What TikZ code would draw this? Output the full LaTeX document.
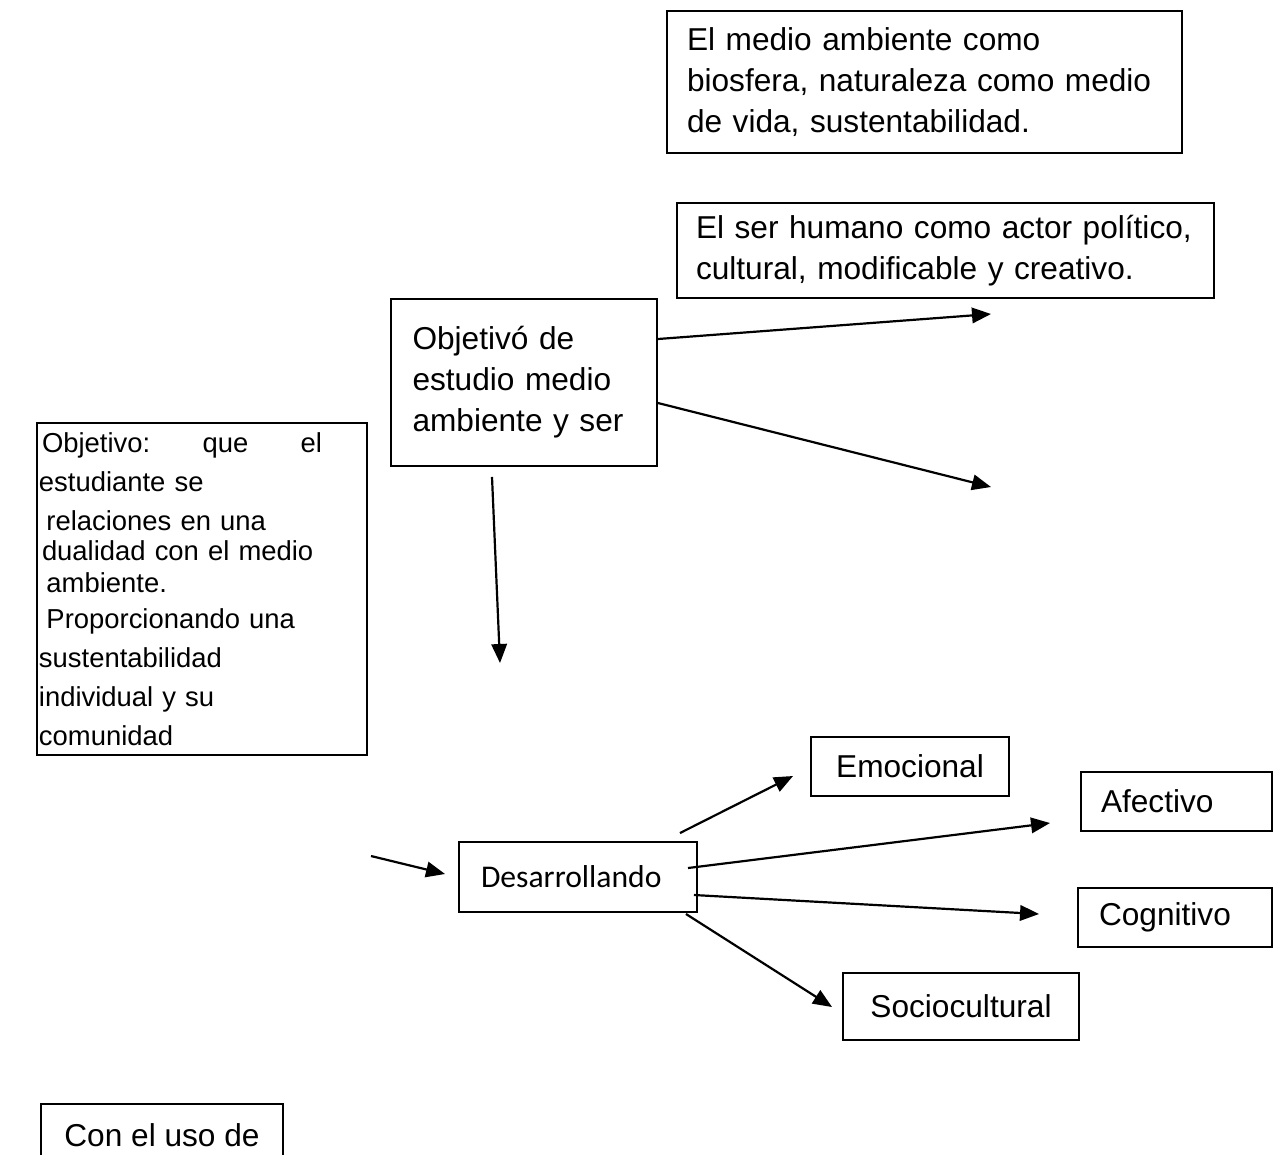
\documentclass[tikz,border=0pt]{standalone}
\usepackage{fontspec}
\setmainfont{Liberation Sans}
\newfontfamily\calibrifont{Carlito}
\usetikzlibrary{arrows.meta}

\begin{document}
\begin{tikzpicture}[
  box/.style={draw, line width=1.1pt, inner sep=0pt, font=\fontsize{18}{23.3}\selectfont},
  lbox/.style={box, align=left},
  cbox/.style={box, align=center},
  arr/.style={-{Triangle[length=0.38cm, width=0.31cm]}, line width=1.25pt},
]
\useasboundingbox (0,0) rectangle (25.46,-23.08);
% ---- upper boxes ----
\node[lbox, minimum width=10.30cm, minimum height=2.84cm, inner xsep=0.40cm, text width=9.50cm] (med) at (18.49,-1.64)
  {El medio ambiente como\\biosfera, naturaleza como medio\\de vida, sustentabilidad.};
\node[lbox, minimum width=10.74cm, minimum height=1.90cm, inner xsep=0.38cm, text width=9.98cm] (hum) at (18.91,-5.01)
  {El ser humano como actor político,\\cultural, modificable y creativo.};
\node[lbox, minimum width=5.32cm, minimum height=3.34cm, inner xsep=0.43cm, text width=4.46cm] (obj) at (10.48,-7.65)
  {Objetivó de\\estudio medio\\ambiente y ser};
% ---- left box ----
\node[lbox, minimum width=6.60cm, minimum height=6.64cm, inner xsep=0.04cm, text width=6.52cm,
      font=\fontsize{15.6}{22.2}\selectfont] (meta) at (4.04,-11.78)
  {\makebox[5.66cm][l]{\hspace*{0.06cm}Objetivo:\hfill que\hfill el}\\
   estudiante se\\
   \hspace*{0.15cm}relaciones en una\\[-5pt]
   \hspace*{0.06cm}dualidad con el medio\\[-4pt]
   \hspace*{0.15cm}ambiente.\\[-2pt]
   \hspace*{0.15cm}Proporcionando una\\
   sustentabilidad\\
   individual y su\\
   comunidad};
% ---- lower boxes ----
\node[lbox, minimum width=4.76cm, minimum height=1.40cm, inner xsep=0.44cm, text width=3.88cm,
      font=\calibrifont\fontsize{18}{22}\selectfont] (des) at (11.56,-17.54) {Desarrollando};
\node[cbox, minimum width=3.96cm, minimum height=1.18cm] (emo) at (18.20,-15.33) {Emocional};
\node[lbox, minimum width=3.82cm, minimum height=1.18cm, inner xsep=0.40cm, text width=3.02cm] (afe) at (23.53,-16.03) {Afectivo};
\node[lbox, minimum width=3.88cm, minimum height=1.18cm, inner xsep=0.42cm, text width=3.04cm] (cog) at (23.50,-18.35) {Cognitivo};
\node[cbox, minimum width=4.72cm, minimum height=1.34cm] (soc) at (19.22,-20.13) {Sociocultural};
\node[cbox, minimum width=4.84cm, minimum height=1.24cm] (uso) at (3.24,-22.70) {Con el uso de};
% ---- free ends ----
\coordinate (tipa) at (19.82,-6.28);
\coordinate (tipb) at (19.82,-9.74);
\coordinate (tipc) at (10.00,-13.26);
\coordinate (taild) at (7.42,-17.12);
% ---- arrows ----
\draw[arr] ([yshift=0.87cm]obj.east) -- (tipa);
\draw[arr] ([yshift=-0.41cm]obj.east) -- (tipb);
\draw[arr] ([xshift=-0.64cm,yshift=-0.2cm]obj.south) -- (tipc);
\draw[arr] (taild) -- ([xshift=-0.26cm,yshift=0.06cm]des.west);
\draw[arr] ([xshift=-0.36cm,yshift=0.16cm]des.north east) -- ([xshift=-0.34cm,yshift=-0.19cm]emo.west);
\draw[arr] ([xshift=-0.2cm,yshift=0.18cm]des.east) -- ([xshift=-0.6cm,yshift=-0.43cm]afe.west);
\draw[arr] ([xshift=-0.08cm,yshift=-0.36cm]des.east) -- ([xshift=-0.76cm,yshift=0.07cm]cog.west);
\draw[arr] ([xshift=-0.24cm,yshift=-0.02cm]des.south east) -- ([xshift=-0.2cm,yshift=-0.01cm]soc.west);
\end{tikzpicture}
\end{document}
